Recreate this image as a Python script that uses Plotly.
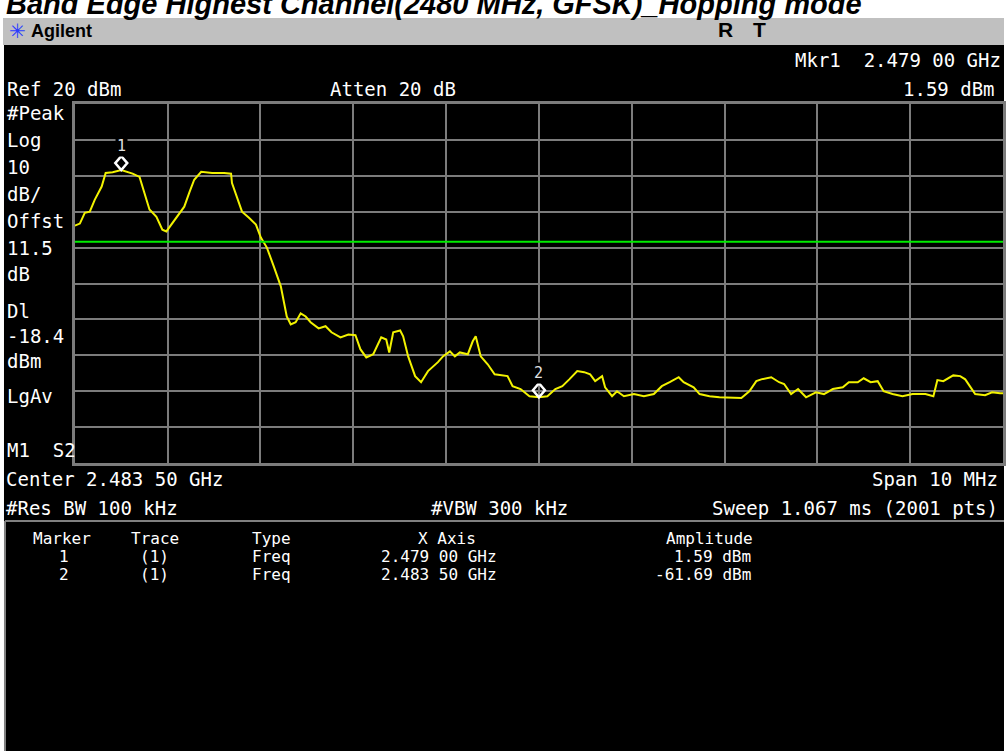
import plotly.graph_objects as go

W, H = 1006, 751

# ---------------- data ----------------
center_mhz = 2483.5
span_mhz = 10.0
ref_level_dbm = 20
db_per_div = 10
n_div = 10
display_line_dbm = -18.4

freq_mhz = [
    2478.500, 2478.554, 2478.607, 2478.661, 2478.714, 2478.789, 2478.832, 2478.907,
    2479.000, 2479.122, 2479.197, 2479.250, 2479.304, 2479.379, 2479.443, 2479.486,
    2479.518, 2479.593, 2479.679, 2479.733, 2479.786, 2479.861, 2479.979, 2480.108,
    2480.183, 2480.193, 2480.247, 2480.301, 2480.376, 2480.451, 2480.504, 2480.569,
    2480.644, 2480.719, 2480.783, 2480.826, 2480.879, 2480.933, 2480.987, 2481.040,
    2481.126, 2481.201, 2481.265, 2481.362, 2481.447, 2481.523, 2481.576, 2481.640,
    2481.715, 2481.801, 2481.855, 2481.887, 2481.930, 2482.005, 2482.037, 2482.091,
    2482.166, 2482.230, 2482.305, 2482.412, 2482.466, 2482.541, 2482.594, 2482.648,
    2482.734, 2482.787, 2482.819, 2482.873, 2482.948, 2483.023, 2483.162, 2483.216,
    2483.302, 2483.398, 2483.500, 2483.591, 2483.677, 2483.752, 2483.827, 2483.913,
    2483.988, 2484.052, 2484.106, 2484.181, 2484.213, 2484.288, 2484.341, 2484.416,
    2484.524, 2484.631, 2484.738, 2484.824, 2484.909, 2485.006, 2485.059, 2485.167,
    2485.231, 2485.338, 2485.445, 2485.553, 2485.681, 2485.767, 2485.842, 2485.895,
    2486.003, 2486.088, 2486.142, 2486.217, 2486.292, 2486.378, 2486.485, 2486.571,
    2486.667, 2486.774, 2486.839, 2486.935, 2486.999, 2487.074, 2487.150, 2487.214,
    2487.310, 2487.417, 2487.525, 2487.664, 2487.750, 2487.793, 2487.857, 2487.964,
    2488.039, 2488.093, 2488.200, 2488.307, 2488.382, 2488.468, 2488.500,
]
level_dbm = [
    -13.9, -13.3, -10.3, -10.0, -6.7, -3.0, 0.8, 1.0,
    1.59, 0.6, -0.3, -4.7, -9.4, -11.4, -15.0, -15.5,
    -14.4, -11.7, -8.6, -4.7, -1.1, 1.1, 0.8, 0.8,
    0.6, -2.0, -5.8, -10.0, -11.7, -13.6, -17.2, -20.0,
    -25.3, -30.8, -39.2, -41.4, -40.8, -38.3, -39.2, -40.8,
    -42.5, -41.9, -43.6, -45.0, -44.2, -44.4, -48.3, -50.6,
    -49.7, -45.0, -45.6, -49.2, -43.6, -43.1, -44.7, -50.3,
    -55.8, -57.5, -54.4, -51.9, -50.3, -48.9, -50.3, -49.2,
    -49.7, -46.1, -44.7, -50.3, -52.5, -55.3, -55.8, -58.6,
    -59.4, -61.4, -61.69, -61.4, -59.4, -58.6, -56.7, -54.4,
    -54.7, -55.3, -57.2, -55.8, -58.9, -61.4, -60.0, -61.4,
    -60.8, -61.4, -60.8, -58.6, -57.5, -56.1, -57.5, -58.9,
    -60.8, -61.4, -61.7, -61.7, -61.9, -60.0, -57.2, -56.7,
    -56.1, -57.5, -58.0, -60.8, -59.4, -61.7, -60.3, -60.8,
    -59.4, -58.9, -57.5, -57.5, -56.4, -57.5, -57.2, -60.0,
    -60.8, -61.4, -60.8, -60.8, -61.4, -56.9, -57.2, -55.6,
    -55.8, -56.7, -60.8, -61.1, -60.3, -60.6, -60.6,
]

marker_ids = ["1", "2"]
marker_traces = ["(1)", "(1)"]
marker_types = ["Freq", "Freq"]
marker_freq_mhz = [2479.00, 2483.50]
marker_freq_text = ["2.479 00 GHz", "2.483 50 GHz"]
marker_amp_dbm = [1.59, -61.69]
marker_amp_text = ["1.59 dBm", "-61.69 dBm"]

title_text = "Band Edge Highest Channel(2480 MHz, GFSK)_Hopping mode"
left_labels = [("#Peak", 113), ("Log", 140), ("10", 167), ("dB/", 194), ("Offst", 221),
               ("11.5", 248), ("dB", 274), ("Dl", 311), ("-18.4", 336), ("dBm", 361),
               ("LgAv", 396), ("M1  S2", 450)]

# ---------------- helpers ----------------
def px(x):
    return x / W


def py(y):
    return 1 - y / H


MONO = "DejaVu Sans Mono"
WHITE = "#ffffff"
GRID = "#7c7c7c"

fig = go.Figure()

fig.add_trace(go.Scatter(
    x=freq_mhz, y=level_dbm, mode="lines",
    line=dict(color="#f2f200", width=2), hoverinfo="skip", showlegend=False,
))

shapes = []
# page backgrounds
shapes.append(dict(type="rect", xref="paper", yref="paper", x0=px(3), x1=px(W), y0=py(45), y1=py(18),
                   fillcolor="#c0c0c0", line=dict(width=0), layer="below"))
shapes.append(dict(type="rect", xref="paper", yref="paper", x0=px(4), x1=px(W), y0=py(H), y1=py(45),
                   fillcolor="#000000", line=dict(width=0), layer="below"))
# marker table frame
shapes.append(dict(type="line", xref="paper", yref="paper", x0=px(5), x1=px(W), y0=py(521), y1=py(521),
                   line=dict(color="#808080", width=2)))
shapes.append(dict(type="line", xref="paper", yref="paper", x0=px(5), x1=px(5), y0=py(521), y1=py(H),
                   line=dict(color="#808080", width=2)))
# display line
shapes.append(dict(type="line", xref="x domain", yref="y", x0=0, x1=1,
                   y0=display_line_dbm, y1=display_line_dbm,
                   line=dict(color="#00ee00", width=2)))
# marker diamonds (drawn just above the marked point)
for f, a in zip(marker_freq_mhz, marker_amp_dbm):
    shapes.append(dict(type="path", xref="x", yref="y", xsizemode="pixel", ysizemode="pixel",
                       xanchor=f, yanchor=a, path="M -6,7 L 0,14 L 6,7 L 0,0 Z",
                       line=dict(color=WHITE, width=2.5), fillcolor="rgba(0,0,0,0)"))

ann = []


def text(t, x, y, size=19, xanchor="left", color=WHITE, family=MONO, **kw):
    ann.append(dict(text=t, x=px(x), y=py(y), xref="paper", yref="paper", showarrow=False,
                    xanchor=xanchor, yanchor="middle", font=dict(size=size, color=color, family=family), **kw))


# title (cut off at the top of the picture)
ann.append(dict(text="<b><i>" + title_text + "</i></b>", x=px(4), y=py(22), xref="paper", yref="paper",
                showarrow=False, xanchor="left", yanchor="bottom",
                font=dict(size=29, color="#000000", family="Liberation Sans")))
# instrument header
text("✳", 18, 31, size=20, xanchor="center", color="#2a3cff", family="DejaVu Sans")
text("<b>Agilent</b>", 29, 31, size=18, color="#000000", family="Liberation Sans Narrow, Liberation Sans")
text("<b>R</b>", 727, 30, size=21, xanchor="center", color="#000000", family="Liberation Sans Narrow, Liberation Sans")
text("<b>T</b>", 761, 30, size=21, xanchor="center", color="#000000", family="Liberation Sans Narrow, Liberation Sans")

text("Mkr1  2.479 00 GHz", 1005, 60, xanchor="right")
text("Ref 20 dBm", 5, 89)
text("Atten 20 dB", 329, 89)
text("1.59 dBm", 999, 89, xanchor="right")
for t, y in left_labels:
    text(t, 5, y)
text("Center 2.483 50 GHz", 4, 479)
text("Span 10 MHz", 1002, 479, xanchor="right")
text("#Res BW 100 kHz", 4, 508)
text("#VBW 300 kHz", 430, 508)
text("Sweep 1.067 ms (2001 pts)", 1002, 508, xanchor="right")

# marker table
TS = 16
text("Marker", 62, 538, size=TS, xanchor="center")
text("Trace", 155, 538, size=TS, xanchor="center")
text("Type", 250, 538, size=TS)
text("X Axis", 448, 538, size=TS, xanchor="center")
text("Amplitude", 711, 538, size=TS, xanchor="center")
for i, (mid, tr, ty, fx, am) in enumerate(zip(marker_ids, marker_traces, marker_types,
                                               marker_freq_text, marker_amp_text)):
    y = 556 + i * 18
    text(mid, 64, y, size=TS, xanchor="center")
    text(tr, 155, y, size=TS, xanchor="center")
    text(ty, 250, y, size=TS)
    text(fx, 440, y, size=TS, xanchor="center")
    text(am, 755, y, size=TS, xanchor="right")

# marker labels on the trace
for mid, f, a in zip(marker_ids, marker_freq_mhz, marker_amp_dbm):
    ann.append(dict(text=mid, x=f, y=a, xref="x", yref="y", showarrow=False, yshift=24,
                    font=dict(size=15, color="#e0e0e0", family=MONO), bgcolor="#000000",
                    borderpad=1))

x_lo = center_mhz - span_mhz / 2
x_hi = center_mhz + span_mhz / 2
y_lo = ref_level_dbm - db_per_div * n_div

fig.update_layout(
    width=W, height=H,
    margin=dict(l=0, r=0, t=0, b=0),
    paper_bgcolor="#ffffff",
    plot_bgcolor="#000000",
    showlegend=False,
    shapes=shapes,
    annotations=ann,
    xaxis=dict(domain=[px(75), px(1005)], range=[x_lo, x_hi], dtick=span_mhz / n_div, tick0=x_lo,
               showgrid=True, gridcolor=GRID, gridwidth=2, zeroline=False, showticklabels=False,
               ticks="", showline=True, mirror=True, linecolor=GRID, linewidth=3, fixedrange=True),
    yaxis=dict(domain=[py(463), py(104)], range=[y_lo, ref_level_dbm], dtick=db_per_div, tick0=y_lo,
               showgrid=True, gridcolor=GRID, gridwidth=2, zeroline=False, showticklabels=False,
               ticks="", showline=True, mirror=True, linecolor=GRID, linewidth=3, fixedrange=True),
)

fig.write_html("out.html", config={"displayModeBar": False},
               post_script="document.body.style.margin='0';document.body.style.overflow='hidden';")
